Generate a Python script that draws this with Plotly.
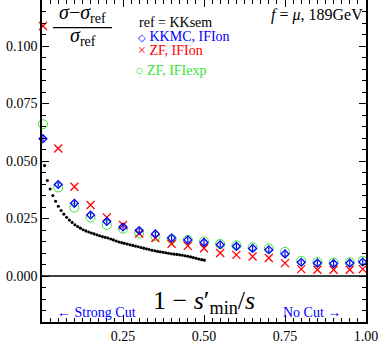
import plotly.graph_objects as go

# ---- data ----
x_pts = [0.003, 0.05, 0.10, 0.15, 0.20, 0.25, 0.30, 0.35, 0.40, 0.45, 0.50,
         0.55, 0.60, 0.65, 0.70, 0.75, 0.80, 0.85, 0.90, 0.95, 0.99]
kkmc_ifion = [0.0597, 0.0398, 0.0316, 0.0265, 0.0237, 0.0213, 0.0198, 0.0183, 0.0165, 0.0157, 0.0146,
              0.0136, 0.0129, 0.0120, 0.0114, 0.0096, 0.0060, 0.0056, 0.0054, 0.0056, 0.0061]
zf_ifion = [0.1087, 0.0554, 0.0388, 0.0309, 0.0255, 0.0222, 0.0185, 0.0165, 0.0140, 0.0131, 0.0121,
            0.0100, 0.0092, 0.0085, 0.0078, 0.0056, 0.0030, 0.0027, 0.0027, 0.0027, 0.0030]
zf_ifiexp = [0.0660, 0.0385, 0.0297, 0.0254, 0.0222, 0.0206, 0.0186, 0.0172, 0.0161, 0.0157, 0.0150,
             0.0139, 0.0133, 0.0125, 0.0120, 0.0105, 0.0066, 0.0060, 0.0058, 0.0060, 0.0066]

x_dense = [0.008, 0.0165, 0.025, 0.0335, 0.042, 0.0505, 0.059, 0.0675, 0.076, 0.0845,
           0.093, 0.1015, 0.11, 0.1185, 0.127, 0.1355, 0.144, 0.1525, 0.161, 0.1695,
           0.178, 0.1865, 0.195, 0.2035, 0.212, 0.2205, 0.229, 0.2375, 0.246, 0.2545,
           0.263, 0.2715, 0.28, 0.2885, 0.297, 0.3055, 0.314, 0.3225, 0.331, 0.3395,
           0.348, 0.3565, 0.365, 0.3735, 0.382, 0.3905, 0.399, 0.4075, 0.416, 0.4245,
           0.433, 0.4415, 0.45, 0.4585, 0.467, 0.4755, 0.484, 0.4925, 0.501]
y_dense = [0.0480, 0.0415, 0.0378, 0.0350, 0.0325, 0.0303, 0.0285, 0.0269, 0.0255, 0.0243,
           0.0233, 0.0223, 0.0215, 0.0208, 0.0201, 0.0196, 0.0191, 0.0187, 0.0183, 0.0179,
           0.0175, 0.0171, 0.0168, 0.0165, 0.0161, 0.0157, 0.0152, 0.0148, 0.0145, 0.0142,
           0.0139, 0.0136, 0.0133, 0.0130, 0.0127, 0.0124, 0.0121, 0.0118, 0.0115, 0.0112,
           0.0110, 0.0107, 0.0105, 0.0103, 0.0101, 0.0099, 0.0097, 0.0095, 0.0094, 0.0092,
           0.0090, 0.0088, 0.0086, 0.0083, 0.0080, 0.0077, 0.0074, 0.0071, 0.0069]

x_ticks = [0.25, 0.50, 0.75, 1.00]
x_tick_labels = ["0.25", "0.50", "0.75", "1.00"]
y_ticks = [0.0, 0.025, 0.05, 0.075, 0.1]
y_tick_labels = ["0.000", "0.025", "0.050", "0.075", "0.100"]

BLUE = "#0000ff"
RED = "#ff0000"
GREEN = "#33e633"
FONT = "Liberation Serif"

fig = go.Figure()

fig.add_trace(go.Scatter(x=x_dense, y=y_dense, mode="markers",
                         marker=dict(symbol="circle", size=3.1, color="black"),
                         cliponaxis=False, showlegend=False))
fig.add_trace(go.Scatter(x=x_pts, y=zf_ifiexp, mode="markers",
                         marker=dict(symbol="circle-open", size=9, color=GREEN, line=dict(width=1)),
                         cliponaxis=False, showlegend=False))
fig.add_trace(go.Scatter(x=x_pts, y=zf_ifion, mode="markers",
                         marker=dict(symbol="x-thin-open", size=8, color=RED, line=dict(width=1.3, color=RED)),
                         cliponaxis=False, showlegend=False))
fig.add_trace(go.Scatter(x=x_pts, y=kkmc_ifion, mode="markers",
                         marker=dict(symbol="diamond-open", size=6, color=BLUE, line=dict(width=1.3)),
                         error_y=dict(type="constant", value=0.0011, width=0, thickness=1.2, color=BLUE),
                         cliponaxis=False, showlegend=False))

# zero line
fig.add_hline(y=0, line=dict(color="black", width=1.3))

axis_common = dict(showline=True, linecolor="black", linewidth=1.5, mirror="allticks",
                   ticks="inside", ticklen=7, tickcolor="black", tickwidth=1,
                   showgrid=False, zeroline=False, automargin=False,
                   tickfont=dict(family=FONT, size=14, color="black"))

fig.update_xaxes(range=[0, 1], tickvals=x_ticks, ticktext=x_tick_labels,
                 minor=dict(dtick=0.025, tick0=0, ticks="inside", ticklen=4, tickcolor="black", showgrid=False),
                 **axis_common)
fig.update_yaxes(range=[-0.02, 0.12], tickvals=y_ticks, ticktext=y_tick_labels,
                 minor=dict(dtick=0.005, tick0=0, ticks="inside", ticklen=4, tickcolor="black", showgrid=False),
                 **axis_common)

# fraction label
FX = 0.125
fig.add_annotation(xref="paper", yref="paper", x=FX, y=0.957, xanchor="center", yanchor="middle",
                   text="<i>σ</i>−<i>σ</i><sub>ref</sub>", showarrow=False,
                   font=dict(family=FONT, size=20, color="black"))
fig.add_shape(type="line", xref="paper", yref="paper", x0=0.034, x1=0.216,
              y0=0.914, y1=0.914, line=dict(color="black", width=1.2))
fig.add_annotation(xref="paper", yref="paper", x=FX, y=0.887, xanchor="center", yanchor="middle",
                   text="<i>σ</i><sub>ref</sub>", showarrow=False,
                   font=dict(family=FONT, size=20, color="black"))

# legend-like text
fig.add_annotation(xref="paper", yref="paper", x=0.293, y=0.93, xanchor="left", yanchor="middle",
                   text="ref = KKsem", showarrow=False, font=dict(family=FONT, size=14, color="black"))
fig.add_annotation(xref="paper", yref="paper", x=0.29, y=0.888, xanchor="left", yanchor="middle",
                   text="<span style='font-size:10px'>◇</span> KKMC, IFIon", showarrow=False,
                   font=dict(family=FONT, size=14, color=BLUE))
fig.add_annotation(xref="paper", yref="paper", x=0.29, y=0.843, xanchor="left", yanchor="middle",
                   text="× ZF, IFIon", showarrow=False, font=dict(family=FONT, size=14, color=RED))
fig.add_annotation(xref="paper", yref="paper", x=0.282, y=0.781, xanchor="left", yanchor="middle",
                   text="○ ZF, IFIexp", showarrow=False, font=dict(family=FONT, size=14, color=GREEN))

fig.add_annotation(xref="paper", yref="paper", x=0.997, y=0.952, xanchor="right", yanchor="middle",
                   text="<i>f</i> = <i>μ</i>, 189GeV", showarrow=False,
                   font=dict(family=FONT, size=16, color="black"))

# axis title inside plot
fig.add_annotation(xref="paper", yref="paper", x=0.5, y=0.062, xanchor="center", yanchor="middle",
                   text="1 − <i>s</i>′<sub>min</sub>/<i>s</i>", showarrow=False,
                   font=dict(family=FONT, size=26, color="black"))
fig.add_annotation(xref="paper", yref="paper", x=0.04, y=0.028, xanchor="left", yanchor="middle",
                   text="← Strong Cut", showarrow=False, font=dict(family=FONT, size=14, color=BLUE))
fig.add_annotation(xref="paper", yref="paper", x=0.929, y=0.028, xanchor="right", yanchor="middle",
                   text="No Cut →", showarrow=False, font=dict(family=FONT, size=14, color=BLUE))

fig.update_layout(width=382, height=343, margin=dict(l=42, r=16, t=0, b=21),
                  paper_bgcolor="white", plot_bgcolor="white",
                  font=dict(family=FONT, color="black"))

fig.write_html("out.html", config={"displayModeBar": False},
               post_script="document.body.style.margin='0';document.body.style.padding='0';")
